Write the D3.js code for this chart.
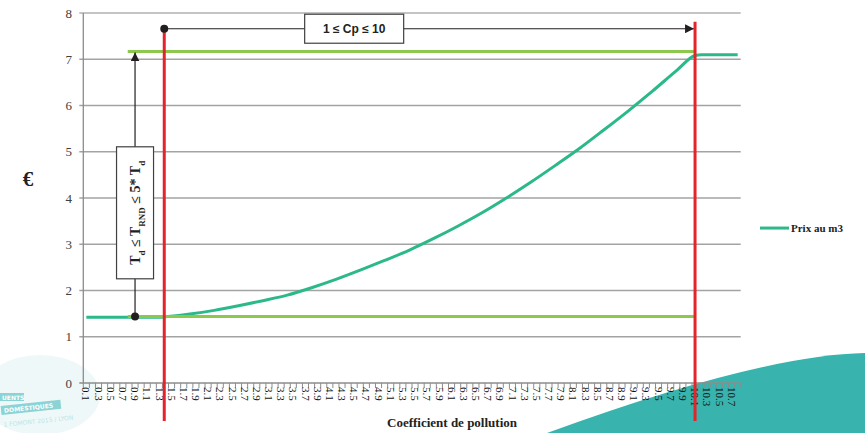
<!DOCTYPE html>
<html>
<head>
<meta charset="utf-8">
<script src="https://cdn.jsdelivr.net/npm/d3@7"></script>
<style>
  body { margin: 0; background: #fff; }
  svg { display: block; }
  .serif { font-family: "Liberation Serif", "Times New Roman", serif; }
</style>
</head>
<body>
<svg width="865" height="433"></svg>
<script>
// categories of the x axis (coefficient de pollution)
var categories = ["0.1","0.2","0.3","0.4","0.5","0.6","0.7","0.8","0.9","1.0",
  "1.1","1.2","1.3","1.4","1.5","1.6","1.7","1.8","1.9","2.0",
  "2.1","2.2","2.3","2.4","2.5","2.6","2.7","2.8","2.9","3.0",
  "3.1","3.2","3.3","3.4","3.5","3.6","3.7","3.8","3.9","4.0",
  "4.1","4.2","4.3","4.4","4.5","4.6","4.7","4.8","4.9","5.0",
  "5.1","5.2","5.3","5.4","5.5","5.6","5.7","5.8","5.9","6.0",
  "6.1","6.2","6.3","6.4","6.5","6.6","6.7","6.8","6.9","7.0",
  "7.1","7.2","7.3","7.4","7.5","7.6","7.7","7.8","7.9","8.0",
  "8.1","8.2","8.3","8.4","8.5","8.6","8.7","8.8","8.9","9.0",
  "9.1","9.2","9.3","9.4","9.5","9.6","9.7","9.8","9.9","10.0",
  "10.1","10.2","10.3","10.4","10.5","10.6","10.7","10.8"];

var yTicks = [0, 1, 2, 3, 4, 5, 6, 7, 8];

// Prix au m3
var priceX = [0.1, 1.3, 1.4, 1.8, 2.2, 2.6, 3.0, 3.4, 3.8, 4.2, 4.6, 5.0, 5.4, 5.8,
              6.2, 6.6, 7.0, 7.4, 7.8, 8.2, 8.6, 9.0, 9.4, 9.8, 10.1, 10.2, 10.8];
var priceY = [1.42, 1.42, 1.43, 1.49, 1.57, 1.67, 1.78, 1.90, 2.06, 2.24, 2.44, 2.65, 2.87, 3.12,
              3.39, 3.68, 4.00, 4.34, 4.70, 5.07, 5.47, 5.88, 6.31, 6.76, 7.08, 7.10, 7.10];

// annotation values
var td = 1.44, tdMax = 7.17;          // Td and 5*Td
var cpBounds = [1.38, 10.1];          // Cp = 1 and Cp = 10
var cpArrowY = 7.66;
var tdArrowX = 0.9;
var greenStart = 0.78;

var svg = d3.select("svg"),
    width = +svg.attr("width"),
    height = +svg.attr("height");

var mLeft = 83.3, mRight = 740.7, mTop = 13, mBottom = 383;

var x = d3.scaleBand().domain(categories).range([mLeft, mRight]).padding(0);
var xv = d3.scaleLinear().domain([0.05, 10.85]).range([mLeft, mRight]);
var y = d3.scaleLinear().domain([0, 8]).range([mBottom, mTop]);

// decoration: teal swoosh bottom right
svg.append("path")
  .attr("d", "M547,433 Q760,355 865,353 L865,433 Z")
  .attr("fill", "#38b3ad");

// decoration: faded logo bottom left
var logo = svg.append("g").attr("opacity", 0.55);
logo.append("ellipse").attr("cx", 40).attr("cy", 395).attr("rx", 60).attr("ry", 40)
  .attr("fill", "#e3f3f3");
logo.append("rect").attr("x", 0).attr("y", 393).attr("width", 24).attr("height", 8)
  .attr("fill", "#2fb0b3");
logo.append("text").attr("x", 2).attr("y", 400).text("UENTS")
  .attr("fill", "#fff").style("font", "bold 6px 'DejaVu Sans'");
logo.append("g").attr("transform", "rotate(-6, 30, 408)")
  .call(function(g) {
    g.append("rect").attr("x", 1).attr("y", 403).attr("width", 60).attr("height", 9).attr("fill", "#2fb0b3");
    g.append("text").attr("x", 4).attr("y", 410).text("DOMESTIQUES")
      .attr("fill", "#fff").style("font", "bold 6px 'DejaVu Sans'");
    g.append("text").attr("x", 2).attr("y", 424).text("1 FOMONT 2015 / LYON")
      .attr("fill", "#7fcfd0").style("font", "6px 'DejaVu Sans'");
  });

// gridlines
svg.append("g")
  .selectAll("line")
  .data(yTicks.slice(1))
  .enter()
  .append("line")
    .attr("x1", mLeft - 4)
    .attr("x2", mRight)
    .attr("y1", function(d) { return y(d); })
    .attr("y2", function(d) { return y(d); })
    .attr("stroke", function(d) { return d == 8 ? "#c4c4c4" : "#a3a3a3"; })
    .attr("stroke-width", function(d) { return d == 8 ? 2 : 1.3; });

// y axis
svg.append("line")
  .attr("x1", mLeft).attr("x2", mLeft)
  .attr("y1", y(8)).attr("y2", y(0))
  .attr("stroke", "#8c8c8c").attr("stroke-width", 1.3);

svg.append("g")
  .selectAll("text")
  .data(yTicks)
  .enter()
  .append("text")
    .attr("class", "serif")
    .attr("x", 72)
    .attr("y", function(d) { return y(d); })
    .attr("dy", "0.35em")
    .attr("text-anchor", "end")
    .style("font-size", "13px")
    .style("fill", "#404040")
    .text(function(d) { return d; });

// x axis
svg.append("line")
  .attr("x1", mLeft - 4).attr("x2", mRight)
  .attr("y1", y(0)).attr("y2", y(0))
  .attr("stroke", "#8c8c8c").attr("stroke-width", 1.3);

svg.append("g")
  .selectAll("line")
  .data(categories.concat(["end"]))
  .enter()
  .append("line")
    .attr("x1", function(d) { return d == "end" ? mRight : x(d); })
    .attr("x2", function(d) { return d == "end" ? mRight : x(d); })
    .attr("y1", y(0))
    .attr("y2", y(0) + 5)
    .attr("stroke", "#8c8c8c")
    .attr("stroke-width", 1);

svg.append("g")
  .selectAll("text")
  .data(categories.filter(function(d, i) { return i % 2 == 0; }))
  .enter()
  .append("text")
    .attr("class", "serif")
    .attr("transform", function(d) {
      return "translate(" + (x(d) + x.bandwidth() / 2) + "," + (y(0) + 4) + ") rotate(90)";
    })
    .attr("dy", "0.35em")
    .style("font-size", "11px")
    .style("fill", "#111")
    .text(function(d) { return d; });

// axis titles
svg.append("text")
  .attr("class", "serif")
  .attr("x", 452).attr("y", 427)
  .attr("text-anchor", "middle")
  .style("font-size", "13px").style("font-weight", "bold")
  .style("fill", "#222")
  .text("Coefficient de pollution");

svg.append("text")
  .attr("class", "serif")
  .attr("x", 28).attr("y", 186)
  .attr("text-anchor", "middle")
  .style("font-size", "21px").style("font-weight", "bold")
  .style("fill", "#222")
  .text("€");

// price curve
var priceData = priceX.map(function(v, i) { return { x: v, y: priceY[i] }; });

var line = d3.line()
  .x(function(d) { return xv(d.x); })
  .y(function(d) { return y(d.y); })
  .curve(d3.curveMonotoneX);

svg.append("path")
  .datum(priceData)
  .attr("d", line)
  .attr("fill", "none")
  .attr("stroke", "#2bb98a")
  .attr("stroke-width", 3);

// light green bounds Td and 5*Td
svg.append("g")
  .selectAll("line")
  .data([td, tdMax])
  .enter()
  .append("line")
    .attr("x1", xv(greenStart))
    .attr("x2", xv(cpBounds[1]))
    .attr("y1", function(d) { return y(d); })
    .attr("y2", function(d) { return y(d); })
    .attr("stroke", "#8dc84e")
    .attr("stroke-width", 3);

// arrow markers
var defs = svg.append("defs");
defs.append("marker")
  .attr("id", "arrow")
  .attr("viewBox", "0 0 10 10")
  .attr("refX", 10).attr("refY", 5)
  .attr("markerWidth", 9).attr("markerHeight", 9)
  .attr("markerUnits", "userSpaceOnUse")
  .attr("orient", "auto")
  .append("path").attr("d", "M0,0 L10,5 L0,10 Z").attr("fill", "#231f20");

// vertical arrow Td -> 5*Td
svg.append("line")
  .attr("x1", xv(tdArrowX)).attr("x2", xv(tdArrowX))
  .attr("y1", y(td)).attr("y2", y(tdMax) + 1)
  .attr("stroke", "#231f20").attr("stroke-width", 1.2)
  .attr("marker-end", "url(#arrow)");

svg.append("circle")
  .attr("cx", xv(tdArrowX)).attr("cy", y(td)).attr("r", 4)
  .attr("fill", "#231f20");

var vbox = svg.append("g")
  .attr("transform", "translate(" + xv(tdArrowX) + "," + y(3.68) + ")");
vbox.append("rect")
  .attr("x", -18.5).attr("y", -66)
  .attr("width", 37).attr("height", 132)
  .attr("fill", "#fff").attr("stroke", "#404040").attr("stroke-width", 1.2);
var vt = vbox.append("text")
  .attr("class", "serif")
  .attr("transform", "rotate(-90)")
  .attr("text-anchor", "middle")
  .attr("dy", "0.35em")
  .style("font-size", "14px").style("font-weight", "bold").style("fill", "#222");
vt.append("tspan").text("T");
vt.append("tspan").attr("baseline-shift", "sub").style("font-size", "9px").text("d");
vt.append("tspan").text(" ≤ T");
vt.append("tspan").attr("baseline-shift", "sub").style("font-size", "9px").text("RND");
vt.append("tspan").text(" ≤ 5* T");
vt.append("tspan").attr("baseline-shift", "sub").style("font-size", "9px").text("d");

// horizontal arrow Cp 1 -> 10
svg.append("line")
  .attr("x1", xv(cpBounds[0])).attr("x2", xv(cpBounds[1]) - 1)
  .attr("y1", y(cpArrowY)).attr("y2", y(cpArrowY))
  .attr("stroke", "#231f20").attr("stroke-width", 1.2)
  .attr("marker-end", "url(#arrow)");

var hbox = svg.append("g")
  .attr("transform", "translate(" + xv(4.5) + "," + y(cpArrowY) + ")");
hbox.append("rect")
  .attr("x", -49.5).attr("y", -14.5)
  .attr("width", 99).attr("height", 29)
  .attr("fill", "#fff").attr("stroke", "#404040").attr("stroke-width", 1.2);
hbox.append("text")
  .attr("text-anchor", "middle").attr("dy", "0.35em")
  .style("font-family", "'Liberation Sans', Arial, sans-serif")
  .style("font-size", "12px").style("font-weight", "bold").style("fill", "#222")
  .text("1 ≤ Cp ≤ 10");

// red bounds
svg.append("g")
  .selectAll("line")
  .data(cpBounds)
  .enter()
  .append("line")
    .attr("x1", function(d) { return xv(d); })
    .attr("x2", function(d) { return xv(d); })
    .attr("y1", function(d, i) { return i == 0 ? y(cpArrowY) : y(7.81); })
    .attr("y2", y(-0.82))
    .attr("stroke", "#e5232a")
    .attr("stroke-width", 3);

svg.append("circle")
  .attr("cx", xv(cpBounds[0])).attr("cy", y(cpArrowY)).attr("r", 4)
  .attr("fill", "#231f20");

// legend
var legend = svg.append("g").attr("transform", "translate(760," + y(3.35) + ")");
legend.append("line")
  .attr("x1", 0).attr("x2", 29)
  .attr("stroke", "#2bb98a").attr("stroke-width", 3);
legend.append("text")
  .attr("class", "serif")
  .attr("x", 31).attr("dy", "0.35em")
  .style("font-size", "11px").style("font-weight", "bold").style("fill", "#222")
  .text("Prix au m3");
</script>
</body>
</html>
